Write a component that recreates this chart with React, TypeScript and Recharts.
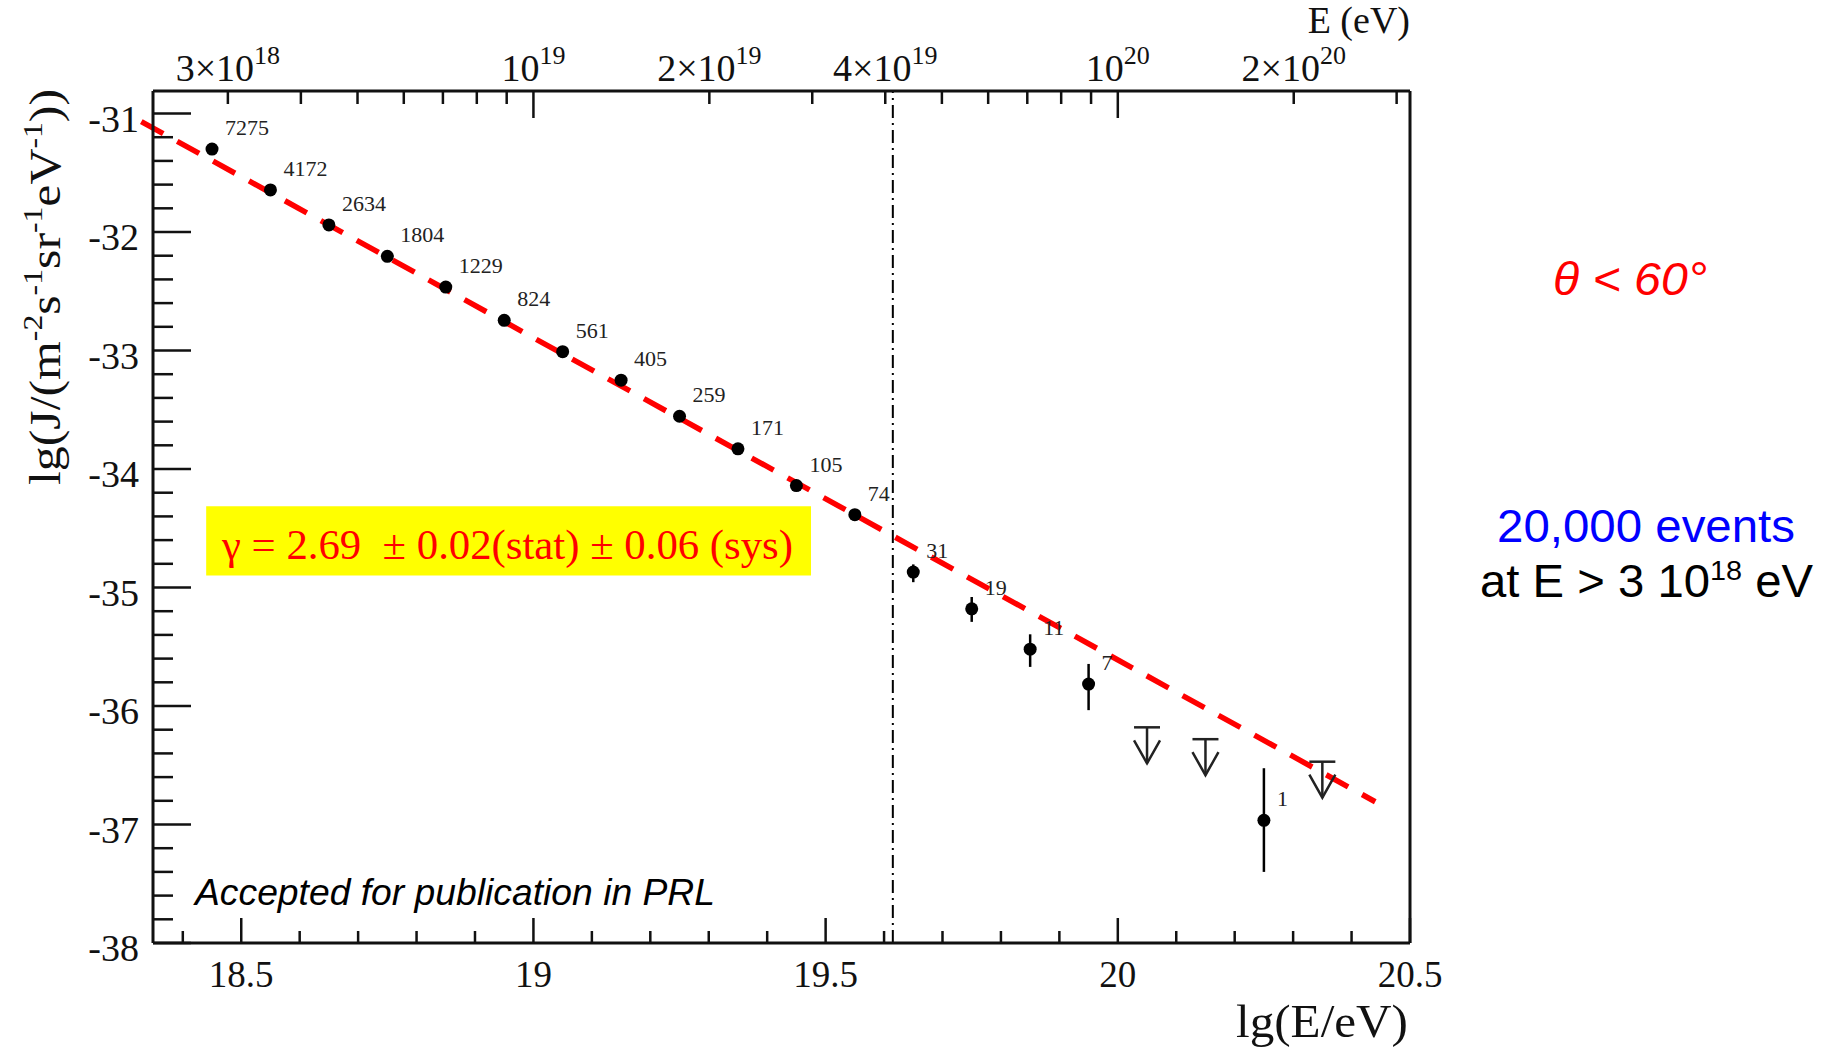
import {
  ErrorBar,
  ReferenceArea,
  ReferenceLine,
  Scatter,
  ScatterChart,
  XAxis,
  YAxis,
} from "recharts";

// lg(E/eV) bin centres and measured flux lg(J)
const binCentres = [
  18.45, 18.55, 18.65, 18.75, 18.85, 18.95, 19.05, 19.15, 19.25, 19.35,
  19.45, 19.55, 19.65, 19.75, 19.85, 19.95, 20.25,
];
const fluxValues = [
  -31.3, -31.645, -31.94, -32.205, -32.465, -32.745, -33.01, -33.25, -33.555,
  -33.83, -34.14, -34.385, -34.87, -35.18, -35.52, -35.815, -36.965,
];
// [below, above] error in lg(J)
const fluxErrors: [number, number][] = [
  [0, 0], [0, 0], [0, 0], [0, 0], [0, 0], [0, 0], [0, 0], [0, 0], [0, 0],
  [0, 0], [0, 0], [0, 0], [0.085, 0.065], [0.11, 0.1], [0.15, 0.125],
  [0.22, 0.17], [0.435, 0.44],
];
const eventCounts = [
  7275, 4172, 2634, 1804, 1229, 824, 561, 405, 259, 171, 105, 74, 31, 19, 11,
  7, 1,
];

// upper limits (empty bins)
const limitCentres = [20.05, 20.15, 20.35];
const limitValues = [-36.18, -36.28, -36.47];

// power law fit, end points
const fitX = [18.329, 20.4405];
const fitY = [-31.068, -36.808];

// ankle / GZK marker
const markerX = 19.615;

// gamma annotation box
const boxX = [18.44, 19.475];
const boxY = [-34.898, -34.315];

// axes
const xDomain = [18.349, 20.5];
const yDomain = [-38, -30.81];
const bottomTicks = [
  18.4, 18.5, 18.6, 18.7, 18.8, 18.9, 19, 19.1, 19.2, 19.3, 19.4, 19.5, 19.6,
  19.7, 19.8, 19.9, 20, 20.1, 20.2, 20.3, 20.4, 20.5,
];
const bottomLabels = [18.5, 19, 19.5, 20, 20.5];
const yTicks = [
  -38, -37.8, -37.6, -37.4, -37.2, -37, -36.8, -36.6, -36.4, -36.2, -36,
  -35.8, -35.6, -35.4, -35.2, -35, -34.8, -34.6, -34.4, -34.2, -34, -33.8,
  -33.6, -33.4, -33.2, -33, -32.8, -32.6, -32.4, -32.2, -32, -31.8, -31.6,
  -31.4, -31.2, -31,
];
// energy axis on top (eV)
const topTickEnergies = [
  3e18, 4e18, 5e18, 6e18, 7e18, 8e18, 9e18, 1e19, 2e19, 3e19, 4e19, 5e19,
  6e19, 7e19, 8e19, 9e19, 1e20, 2e20, 3e20,
];
const topLabelEnergies = [3e18, 1e19, 2e19, 4e19, 1e20, 2e20];
const topLabelTexts: [string, string][] = [
  ["3×10", "18"],
  ["10", "19"],
  ["2×10", "19"],
  ["4×10", "19"],
  ["10", "20"],
  ["2×10", "20"],
];

const points = binCentres.map((x, i) => ({
  x,
  y: fluxValues[i],
  err: fluxErrors[i],
  count: eventCounts[i],
}));
const limits = limitCentres.map((x, i) => ({ x, y: limitValues[i] }));
const topTicks = topTickEnergies.map((e) => Math.log10(e));

const SERIF = "'Liberation Serif', 'Times New Roman', serif";
const SANS = "'Liberation Sans', Arial, sans-serif";
const INK = "#111";

function BottomTick({ x, y, payload }: any) {
  const v = payload.value;
  const major = Math.abs(v * 2 - Math.round(v * 2)) < 1e-6;
  const labelled = bottomLabels.some((b) => Math.abs(b - v) < 1e-6);
  return (
    <g>
      <line x1={x} y1={y} x2={x} y2={y - (major ? 25 : 12)} stroke={INK} strokeWidth={2.5} />
      {labelled && (
        <text x={x} y={y + 44} textAnchor="middle" fontSize={37} fontFamily={SERIF} fill={INK}>
          {String(v)}
        </text>
      )}
    </g>
  );
}

function TopTick({ x, y, payload }: any) {
  const idx = topTicks.indexOf(payload.value);
  const e = topTickEnergies[idx];
  const decade = Math.abs(Math.log10(e) - Math.round(Math.log10(e))) < 1e-9;
  const li = topLabelEnergies.indexOf(e);
  return (
    <g>
      <line x1={x} y1={y} x2={x} y2={y + (decade ? 27 : 13)} stroke={INK} strokeWidth={2.5} />
      {li >= 0 && (
        <text x={x} y={y - 10} textAnchor="middle" fontSize={38} fontFamily={SERIF} fill={INK}>
          {topLabelTexts[li][0]}
          <tspan dy={-17} fontSize={26}>
            {topLabelTexts[li][1]}
          </tspan>
        </text>
      )}
    </g>
  );
}

function LeftTick({ x, y, payload }: any) {
  const v = payload.value;
  const major = Math.abs(v - Math.round(v)) < 1e-6;
  return (
    <g>
      <line x1={x} y1={y} x2={x + (major ? 38 : 20)} y2={y} stroke={INK} strokeWidth={2.5} />
      {major && (
        <text x={x - 14} y={y + 18} textAnchor="end" fontSize={38} fontFamily={SERIF} fill={INK}>
          {String(Math.round(v))}
        </text>
      )}
    </g>
  );
}

function DataPoint({ cx, cy, payload }: any) {
  return (
    <g>
      <circle cx={cx} cy={cy} r={6.5} fill="#000" />
      <text x={cx + 13} y={cy - 14} fontSize={22} fontFamily={SERIF} fill="#222">
        {payload.count}
      </text>
    </g>
  );
}

function UpperLimit({ cx, cy }: any) {
  return (
    <g stroke="#222" strokeWidth={2.5} fill="none">
      <line x1={cx - 13} y1={cy} x2={cx + 13} y2={cy} />
      <line x1={cx} y1={cy} x2={cx} y2={cy + 36} />
      <polyline points={`${cx - 13},${cy + 13} ${cx},${cy + 36} ${cx + 13},${cy + 13}`} />
    </g>
  );
}

export default function App() {
  return (
    <div
      style={{
        position: "absolute",
        left: 0,
        top: 0,
        width: 1833,
        height: 1047,
        background: "#fff",
      }}
    >
      <ScatterChart
        width={1833}
        height={1047}
        margin={{ top: 31, right: 423, bottom: 44, left: 53 }}
      >
        <XAxis
          xAxisId="bottom"
          dataKey="x"
          type="number"
          orientation="bottom"
          domain={xDomain}
          allowDataOverflow
          ticks={bottomTicks}
          interval={0}
          height={60}
          tickSize={0}
          tickMargin={0}
          tickLine={false}
          tick={(p: any) => <BottomTick {...p} />}
          axisLine={{ stroke: INK, strokeWidth: 3 }}
        />
        <XAxis
          xAxisId="top"
          dataKey="x"
          type="number"
          orientation="top"
          domain={xDomain}
          allowDataOverflow
          ticks={topTicks}
          interval={0}
          height={60}
          tickSize={0}
          tickMargin={0}
          tickLine={false}
          tick={(p: any) => <TopTick {...p} />}
          axisLine={{ stroke: INK, strokeWidth: 3 }}
        />
        <YAxis
          yAxisId="left"
          dataKey="y"
          type="number"
          domain={yDomain}
          allowDataOverflow
          ticks={yTicks}
          interval={0}
          width={100}
          tickSize={0}
          tickMargin={0}
          tickLine={false}
          tick={(p: any) => <LeftTick {...p} />}
          axisLine={{ stroke: INK, strokeWidth: 3 }}
        />
        <ReferenceLine
          xAxisId="bottom"
          yAxisId="left"
          x={xDomain[1]}
          stroke={INK}
          strokeWidth={3}
        />
        <ReferenceArea
          xAxisId="bottom"
          yAxisId="left"
          x1={boxX[0]}
          x2={boxX[1]}
          y1={boxY[0]}
          y2={boxY[1]}
          fill="#ffff00"
          fillOpacity={1}
          stroke="none"
        />
        <ReferenceLine
          xAxisId="bottom"
          yAxisId="left"
          x={markerX}
          stroke="#000"
          strokeWidth={2}
          strokeDasharray="13 5 2 5"
        />
        <Scatter
          xAxisId="bottom"
          yAxisId="left"
          data={limits}
          shape={(p: any) => <UpperLimit {...p} />}
          isAnimationActive={false}
        />
        <Scatter
          xAxisId="bottom"
          yAxisId="left"
          data={points}
          shape={(p: any) => <DataPoint {...p} />}
          isAnimationActive={false}
        >
          <ErrorBar
            dataKey="err"
            direction="y"
            width={0}
            stroke="#000"
            strokeWidth={2.5}
            isAnimationActive={false}
          />
        </Scatter>
        <ReferenceLine
          xAxisId="bottom"
          yAxisId="left"
          segment={[
            { x: fitX[0], y: fitY[0] },
            { x: fitX[1], y: fitY[1] },
          ]}
          ifOverflow="visible"
          stroke="#ff0000"
          strokeWidth={5.5}
          strokeDasharray="25 16"
        />
      </ScatterChart>
      <svg
        width={1833}
        height={1047}
        style={{ position: "absolute", left: 0, top: 0, pointerEvents: "none" }}
      >
        <text x={1410} y={33} textAnchor="end" fontSize={38} fontFamily={SERIF} fill={INK}>
          E (eV)
        </text>
        <text
          x={1236}
          y={1037}
          fontSize={47}
          fontFamily={SERIF}
          fill={INK}
          textLength={172}
          lengthAdjust="spacingAndGlyphs"
        >
          lg(E/eV)
        </text>
        <text
          x={60}
          y={485}
          transform="rotate(-90 60 485)"
          fontSize={44}
          fontFamily={SERIF}
          fill={INK}
          textLength={396}
          lengthAdjust="spacingAndGlyphs"
        >
          lg(J/(m
          <tspan dy={-18} fontSize={28}>-2</tspan>
          <tspan dy={18}>s</tspan>
          <tspan dy={-18} fontSize={28}>-1</tspan>
          <tspan dy={18}>sr</tspan>
          <tspan dy={-18} fontSize={28}>-1</tspan>
          <tspan dy={18}>eV</tspan>
          <tspan dy={-18} fontSize={28}>-1</tspan>
          <tspan dy={18}>))</tspan>
        </text>
        <text
          x={222}
          y={559}
          fontSize={42}
          fontFamily={SERIF}
          fill="#ff0000"
          textLength={571}
          lengthAdjust="spacingAndGlyphs"
        >
          {"γ = 2.69 \u00a0± 0.02(stat) ± 0.06 (sys)"}
        </text>
        <text
          x={195}
          y={905}
          fontSize={36}
          fontStyle="italic"
          fontFamily={SANS}
          fill="#000"
          textLength={520}
          lengthAdjust="spacingAndGlyphs"
        >
          Accepted for publication in PRL
        </text>
        <text
          x={1553}
          y={295}
          fontSize={46}
          fontStyle="italic"
          fontFamily={SANS}
          fill="#ff0000"
          textLength={154}
          lengthAdjust="spacingAndGlyphs"
        >
          θ &lt; 60°
        </text>
        <text
          x={1497}
          y={542}
          fontSize={47}
          fontFamily={SANS}
          fill="#0000ff"
          textLength={298}
          lengthAdjust="spacingAndGlyphs"
        >
          20,000 events
        </text>
        <text
          x={1480}
          y={597}
          fontSize={46}
          fontFamily={SANS}
          fill="#000"
          textLength={333}
          lengthAdjust="spacingAndGlyphs"
        >
          at E &gt; 3 10
          <tspan dy={-17} fontSize={28}>18</tspan>
          <tspan dy={17}> eV</tspan>
        </text>
      </svg>
    </div>
  );
}
